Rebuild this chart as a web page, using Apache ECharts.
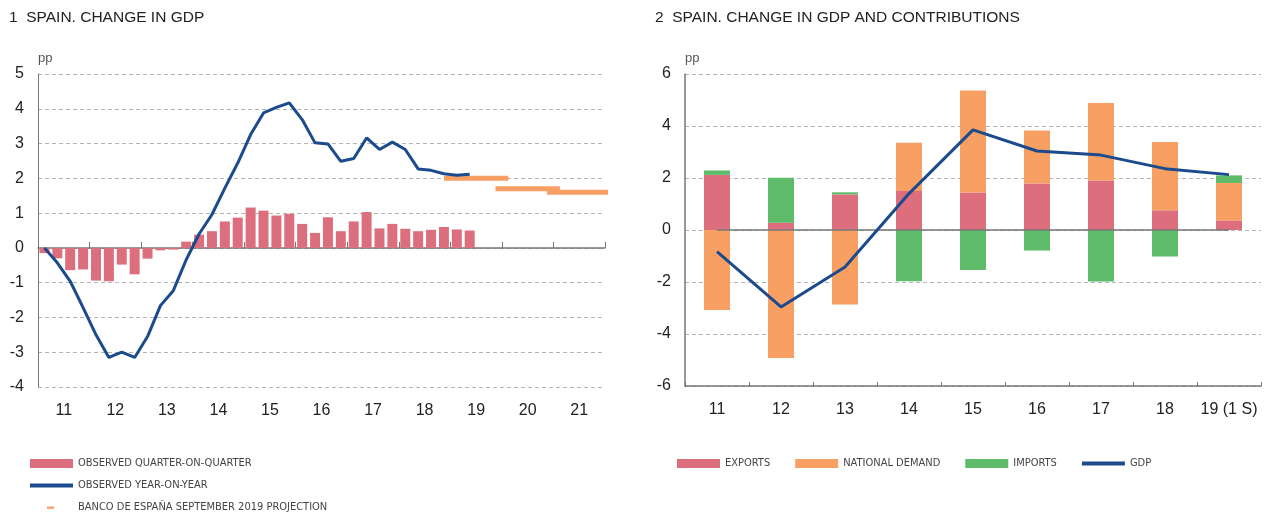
<!DOCTYPE html>
<html>
<head>
<meta charset="utf-8">
<script src="https://cdn.jsdelivr.net/npm/echarts@6.0.0/dist/echarts.min.js"></script>
<style>
  html, body { margin: 0; padding: 0; background: #fff; }
  #main { width: 1266px; height: 518px; }
</style>
</head>
<body>
<div id="main"></div>
<script>
// chart 1: quarterly data, 2011 Q1 .. 2019 Q2
var years = ['11', '12', '13', '14', '15', '16', '17', '18', '19', '20', '21'];
var qoq = [-0.15, -0.3, -0.64, -0.62, -0.94, -0.96, -0.48, -0.76, -0.31, -0.07, -0.05, 0.18,
  0.38, 0.48, 0.76, 0.87, 1.16, 1.07, 0.93, 0.98, 0.69, 0.43, 0.88, 0.48,
  0.76, 1.03, 0.56, 0.69, 0.55, 0.48, 0.52, 0.6, 0.53, 0.5];
var yoy = [0.0, -0.43, -0.96, -1.72, -2.5, -3.15, -3.0, -3.15, -2.55, -1.66, -1.23, -0.34,
  0.4, 0.96, 1.72, 2.44, 3.26, 3.88, 4.04, 4.17, 3.69, 3.02, 2.99, 2.49,
  2.57, 3.16, 2.83, 3.04, 2.83, 2.27, 2.23, 2.13, 2.09, 2.12];
var projYears = ['19', '20', '21'];
var projValues = [2.0, 1.7, 1.6];

// chart 2: yearly contributions
var contribCats = ['11', '12', '13', '14', '15', '16', '17', '18', '19 (1 S)'];
var exportsC = [2.12, 0.28, 1.37, 1.5, 1.44, 1.79, 1.9, 0.76, 0.37];
var demandC = [-3.08, -4.92, -2.87, 1.86, 3.93, 2.04, 2.98, 2.62, 1.44];
var importsC = [0.17, 1.73, 0.08, -1.97, -1.54, -0.79, -1.98, -1.02, 0.29];
var gdpC = [-0.83, -2.96, -1.42, 1.4, 3.85, 3.04, 2.88, 2.36, 2.13];

var RED = '#dc6e7e', BLUE = '#1b4a8d', ORANGE = '#f8a064', GREEN = '#5dbb6a';
var AXIS = '#777', GRID = '#b4b4b4', TXT = '#222';
var FONT = 'Liberation Sans', NARROW = '"DejaVu Sans Condensed", "Liberation Sans"';

var chart = echarts.init(document.getElementById('main'));

var qoqData = qoq.map(function (v, i) { return [i + 0.5, v]; });
var yoyData = yoy.map(function (v, i) { return [i + 0.5, v]; });
var projSeries = projYears.map(function (y, k) {
  var start = years.indexOf(y) * 4;
  return {
    name: 'BANCO DE ESPAÑA SEPTEMBER 2019 PROJECTION',
    type: 'line', xAxisIndex: 0, yAxisIndex: 0,
    data: [[start - 0.5, projValues[k]], [start + 4.5, projValues[k]]],
    symbol: 'none', clip: false,
    lineStyle: { color: ORANGE, width: 5 },
    itemStyle: { color: ORANGE }
  };
});

var yLabel = { color: TXT, fontSize: 16, fontFamily: FONT, margin: 14 };
var xLabel = { color: TXT, fontSize: 16, fontFamily: FONT, margin: 16, interval: 0 };
var split = { show: true, lineStyle: { color: GRID, type: [4, 3], width: 1 } };
var pp = { color: '#555', fontSize: 13, fontFamily: FONT, align: 'left' };
var legendText = { fontFamily: NARROW, fontSize: 11, color: '#444' };

var option = {
  animation: false,
  textStyle: { fontFamily: FONT },
  title: [
    { text: '1  SPAIN. CHANGE IN GDP', left: 9, top: 10, padding: 0,
      textStyle: { fontSize: 15.5, fontWeight: 'normal', color: TXT, fontFamily: FONT } },
    { text: '2  SPAIN. CHANGE IN GDP AND CONTRIBUTIONS', left: 655, top: 10, padding: 0,
      textStyle: { fontSize: 15.5, fontWeight: 'normal', color: TXT, fontFamily: FONT } }
  ],
  legend: [
    {
      orient: 'vertical', left: 30, top: 458, padding: 0,
      itemWidth: 43, itemHeight: 9, itemGap: 11,
      textStyle: legendText, itemStyle: { borderWidth: 0 }, selectedMode: false,
      data: [
        { name: 'OBSERVED QUARTER-ON-QUARTER', icon: 'rect' },
        { name: 'OBSERVED YEAR-ON-YEAR', icon: 'path://M0,0H43V4H0Z' },
        { name: 'BANCO DE ESPAÑA SEPTEMBER 2019 PROJECTION', icon: 'path://M0,0M43,9M17,3.5H24V5.8H17Z' }
      ]
    },
    {
      orient: 'horizontal', left: 677, top: 458, padding: 0,
      itemWidth: 43, itemHeight: 9, itemGap: 25,
      textStyle: legendText, itemStyle: { borderWidth: 0 }, selectedMode: false,
      data: [
        { name: 'EXPORTS', icon: 'rect' },
        { name: 'NATIONAL DEMAND', icon: 'rect' },
        { name: 'IMPORTS', icon: 'rect' },
        { name: 'GDP', icon: 'path://M0,0H43V4H0Z' }
      ]
    }
  ],
  grid: [
    { left: 38, right: 661, top: 74, bottom: 131 },
    { left: 685, right: 5, top: 74, bottom: 132 }
  ],
  xAxis: [
    { // quarters, ticks on year boundaries, line on zero
      type: 'value', gridIndex: 0, min: 0, max: 44, interval: 4, position: 'top',
      axisLine: { show: true, onZero: true, lineStyle: { color: AXIS, width: 1.5 } },
      axisTick: { show: true, length: 6, lineStyle: { color: AXIS } },
      axisLabel: { show: false }, splitLine: { show: false }
    },
    { // year labels at the bottom
      type: 'category', gridIndex: 0, data: years, position: 'bottom',
      axisLine: { show: false, onZero: false }, axisTick: { show: false },
      axisLabel: xLabel
    },
    {
      type: 'category', gridIndex: 1, data: contribCats, position: 'bottom',
      axisLine: { show: true, onZero: false, lineStyle: { color: AXIS, width: 1.5 } },
      axisTick: { show: true, inside: true, interval: 0, length: 4, lineStyle: { color: AXIS } },
      axisLabel: xLabel
    }
  ],
  yAxis: [
    {
      type: 'value', gridIndex: 0, min: -4, max: 5, interval: 1,
      name: 'pp', nameLocation: 'end', nameGap: 9, nameTextStyle: pp,
      axisLine: { show: true, lineStyle: { color: AXIS, width: 1 } },
      axisTick: { show: false }, axisLabel: yLabel, splitLine: split
    },
    {
      type: 'value', gridIndex: 1, min: -6, max: 6, interval: 2,
      name: 'pp', nameLocation: 'end', nameGap: 9, nameTextStyle: pp,
      axisLine: { show: true, lineStyle: { color: AXIS, width: 1.5 } },
      axisTick: { show: false }, axisLabel: yLabel, splitLine: split
    }
  ],
  series: [
    {
      name: 'OBSERVED QUARTER-ON-QUARTER', type: 'bar', xAxisIndex: 0, yAxisIndex: 0,
      data: qoqData, barWidth: 10, itemStyle: { color: RED }
    },
    {
      name: 'OBSERVED YEAR-ON-YEAR', type: 'line', xAxisIndex: 0, yAxisIndex: 0,
      data: yoyData, symbol: 'none', z: 4,
      lineStyle: { color: BLUE, width: 3 }, itemStyle: { color: BLUE }
    }
  ].concat(projSeries).concat([
    {
      name: 'EXPORTS', type: 'bar', xAxisIndex: 2, yAxisIndex: 1, stack: 'c',
      data: exportsC, barWidth: 26, itemStyle: { color: RED }
    },
    {
      name: 'NATIONAL DEMAND', type: 'bar', xAxisIndex: 2, yAxisIndex: 1, stack: 'c',
      data: demandC, barWidth: 26, itemStyle: { color: ORANGE }
    },
    {
      name: 'IMPORTS', type: 'bar', xAxisIndex: 2, yAxisIndex: 1, stack: 'c',
      data: importsC, barWidth: 26, itemStyle: { color: GREEN }
    },
    {
      name: 'zero', type: 'line', xAxisIndex: 2, yAxisIndex: 1, silent: true,
      data: contribCats.map(function () { return 0; }), symbol: 'none', z: 3,
      lineStyle: { color: AXIS, width: 1.5 }
    },
    {
      name: 'GDP', type: 'line', xAxisIndex: 2, yAxisIndex: 1,
      data: gdpC, symbol: 'none', z: 4,
      lineStyle: { color: BLUE, width: 3 }, itemStyle: { color: BLUE }
    }
  ])
};

chart.setOption(option);
</script>
</body>
</html>
